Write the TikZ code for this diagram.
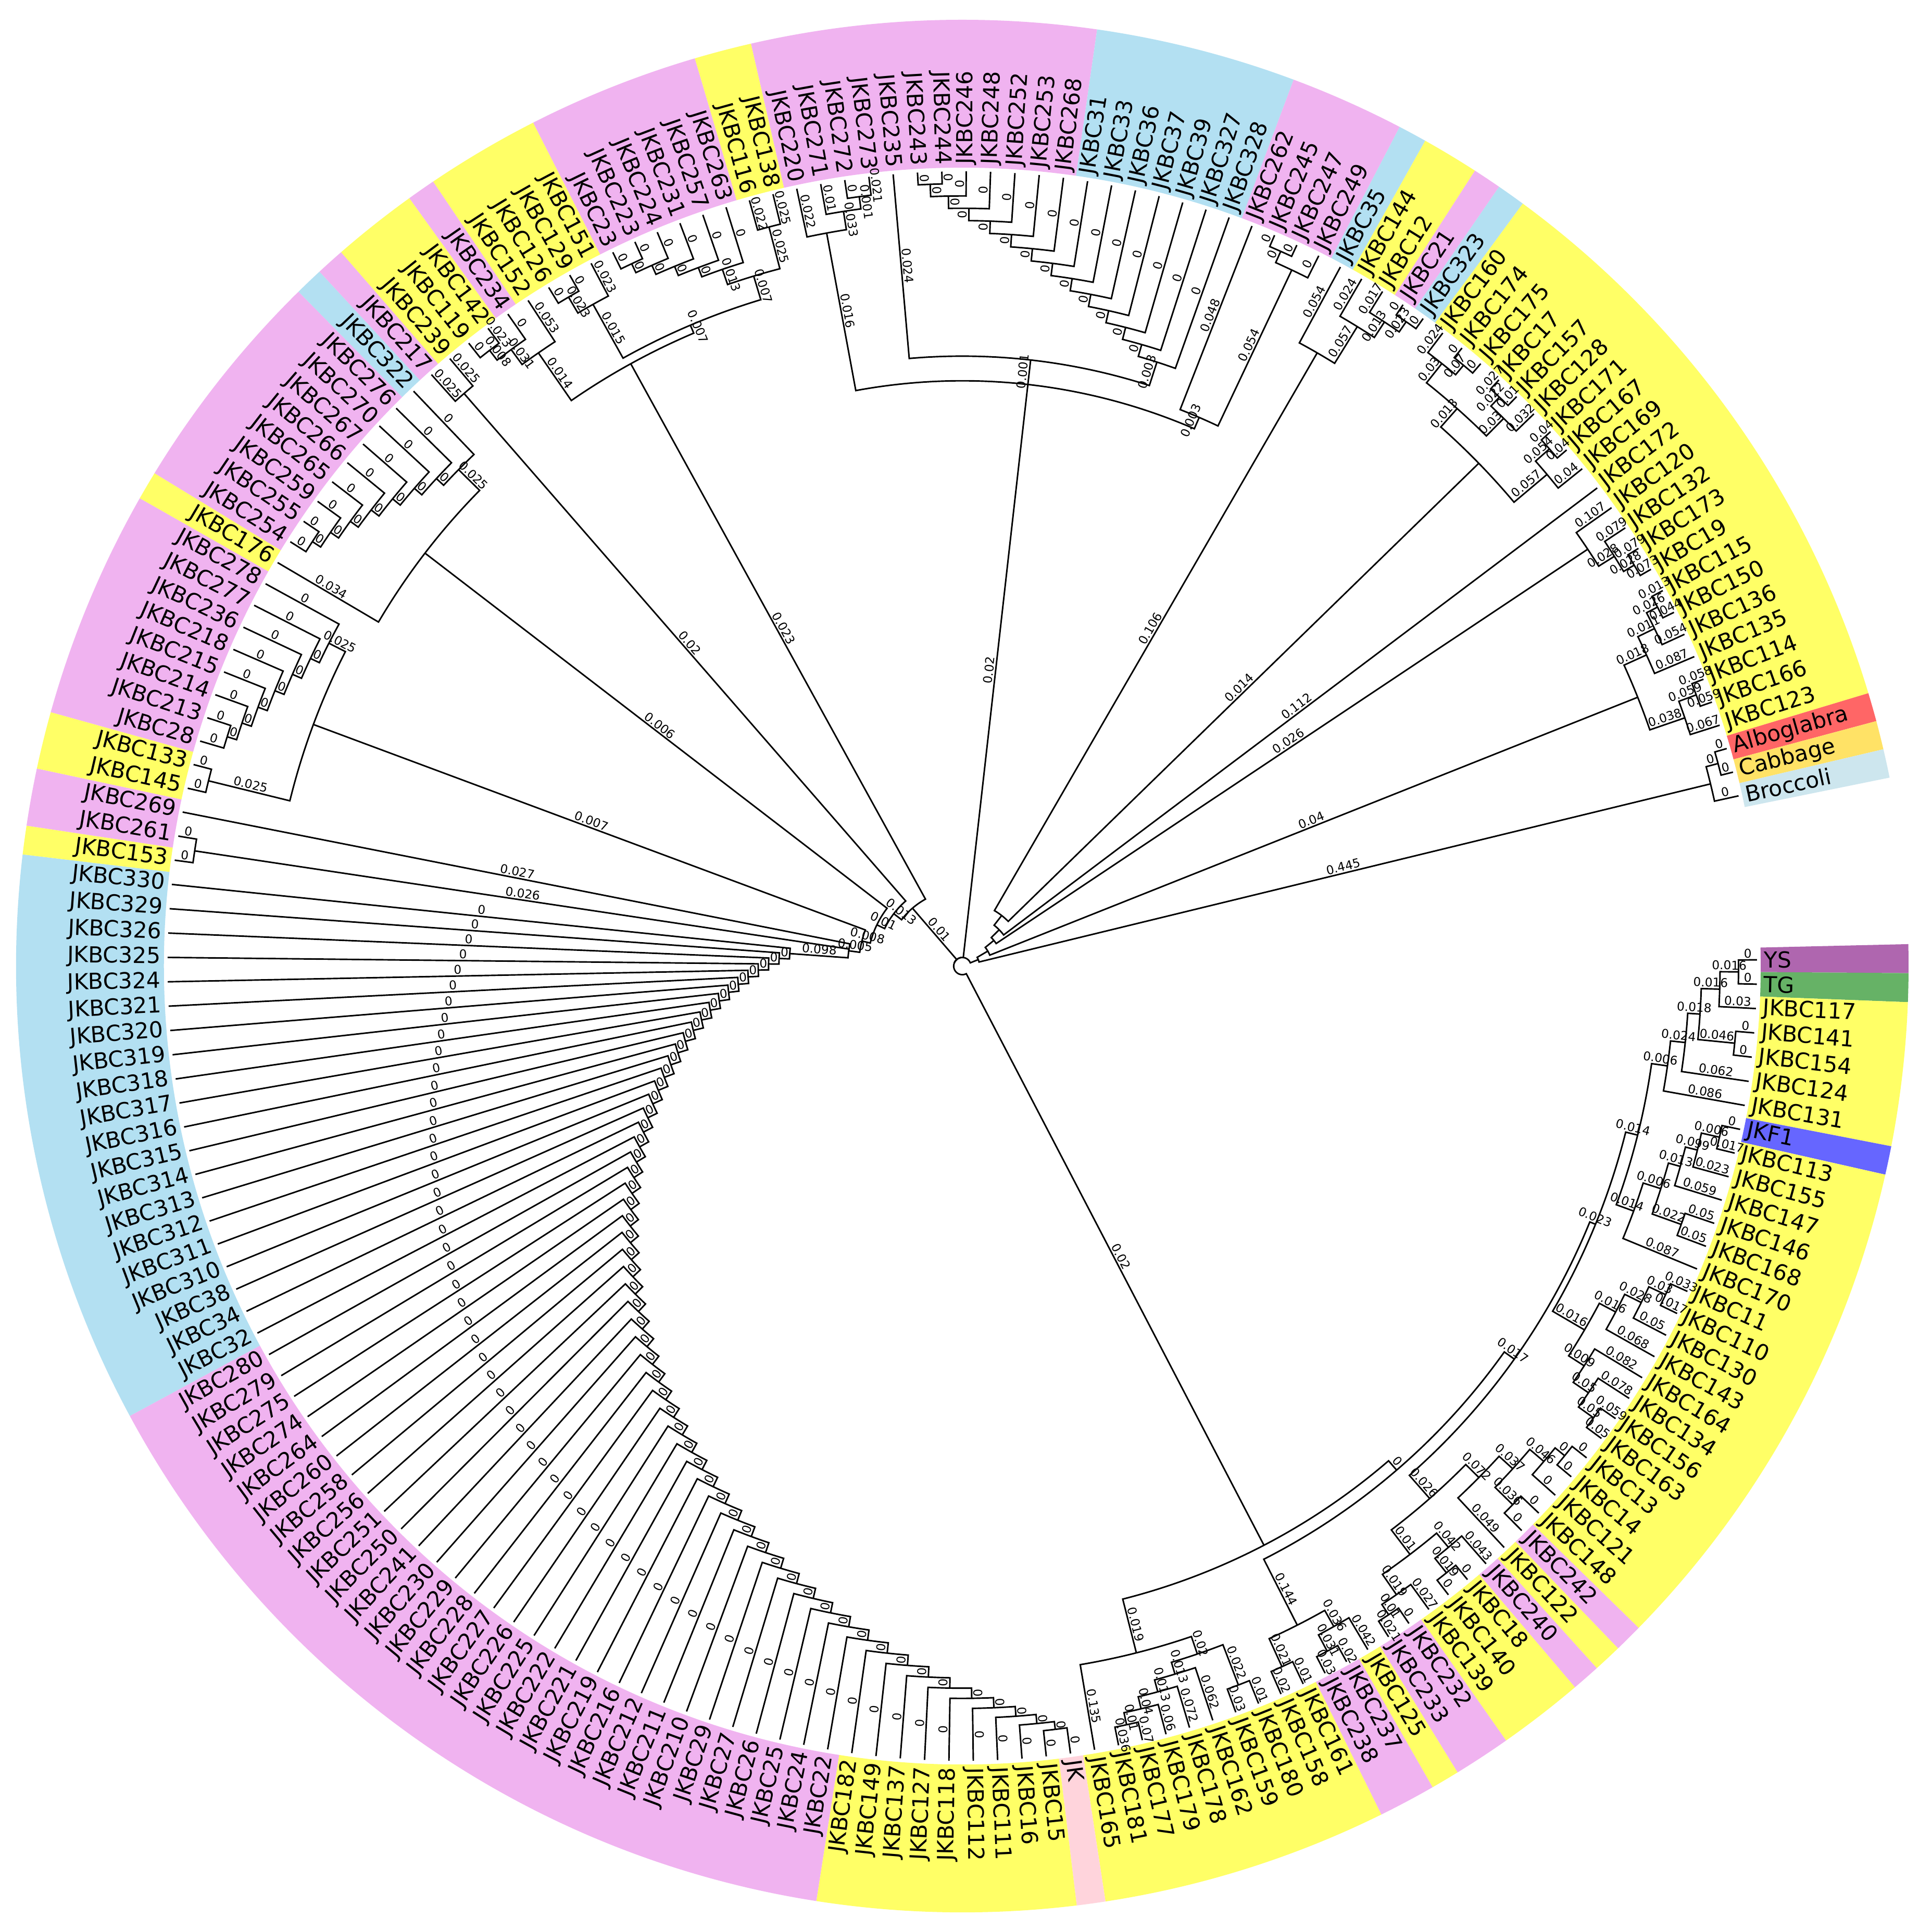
\documentclass[tikz,border=0pt]{standalone}
\usepackage{fontspec}
\newfontfamily\labfont{DejaVu Sans}
\definecolor{cP}{RGB}{240,179,240}
\definecolor{cY}{RGB}{255,255,102}
\definecolor{cB}{RGB}{179,224,242}
\definecolor{cYS}{RGB}{175,102,175}
\definecolor{cTG}{RGB}{102,178,102}
\definecolor{cKF}{RGB}{102,102,255}
\definecolor{cAl}{RGB}{255,102,102}
\definecolor{cCa}{RGB}{255,226,102}
\definecolor{cBr}{RGB}{205,230,238}
\definecolor{cJK}{RGB}{255,212,220}
\tikzset{
 br/.style={line width=0.35pt, black},
 lab/.style={font=\labfont\fontsize{5.1}{6}\selectfont, inner sep=0pt},
 bl/.style={font=\labfont\fontsize{2.8}{3}\selectfont, inner sep=0.25pt, anchor=south},
}
\newcommand\Tip{6.45}
\newcommand\BrE[5]{%
 \pgfmathsetmacro\BrPa{0.45-(#1-1)*1.758}%
 \pgfmathsetmacro\BrCa{0.45-(#3-1)*1.758}%
 \pgfmathsetmacro\BrMr{(#2+#4)/2}%
 \pgfmathsetmacro\BrRot{cos(\BrCa)>=0 ? \BrCa : \BrCa+180}%
 \draw[br] (\BrPa:#2) arc[start angle=\BrPa, end angle=\BrCa, radius=#2] -- (\BrCa:#4);%
 \node[bl, rotate=\BrRot] at (\BrCa:\BrMr) {#5};%
}
\newcommand\Lf[2]{%
 \pgfmathsetmacro\LfA{0.45-(#1-1)*1.758}%
 \pgfmathtruncatemacro\LfR{cos(\LfA)>=0 ? 1 : 0}%
 \ifnum\LfR=1
   \node[lab, anchor=west, rotate=\LfA] (leaf#1) at (\LfA:6.5) {#2};%
 \else
   \pgfmathsetmacro\LfB{\LfA+180}%
   \node[lab, anchor=east, rotate=\LfB] (leaf#1) at (\LfA:6.5) {#2};%
 \fi
}
\newcommand\Band[3]{%
 \pgfmathsetmacro\BdA{0.45-(#1-1)*1.758+0.879}%
 \pgfmathsetmacro\BdB{0.45-(#2-1)*1.758-0.879}%
 \fill[#3] (\BdA:6.48) arc[start angle=\BdA, end angle=\BdB, radius=6.48] -- (\BdB:7.68) arc[start angle=\BdB, end angle=\BdA, radius=7.68] -- cycle;%
}
\newcommand\Cat[4]{%
 \pgfmathsetmacro\CatTmp{#1+0.5}\xdef\CatP{\CatTmp}\xdef\CatR{#3}%
 \pgfmathtruncatemacro\CatS{#1+1}%
 \pgfmathtruncatemacro\CatF{#1+2}%
 \BrE{\CatP}{\CatR}{#1}{\Tip}{0}%
 \BrE{\CatP}{\CatR}{\CatS}{\Tip}{0}%
 \foreach \k in {\CatF,...,#2}{%
   \pgfmathsetmacro\CatNp{(\CatP+\k)/2}%
   \pgfmathsetmacro\CatNr{\CatR-#4}%
   \BrE{\CatNp}{\CatNr}{\k}{\Tip}{0}%
   \BrE{\CatNp}{\CatNr}{\CatP}{\CatR}{0}%
   \xdef\CatP{\CatNp}\xdef\CatR{\CatNr}%
 }%
}
\begin{document}
\begin{tikzpicture}
\fill[white] (-7.81,-7.82) rectangle (7.87,7.84);
\useasboundingbox (-7.81,-7.82) rectangle (7.87,7.84);
% colour ring
\Band{1}{1}{cYS}\Band{2}{2}{cTG}\Band{3}{7}{cY}\Band{8}{8}{cKF}\Band{9}{26}{cY}
\Band{27}{27}{cP}\Band{28}{28}{cY}\Band{29}{29}{cP}\Band{30}{32}{cY}\Band{33}{34}{cP}
\Band{35}{35}{cY}\Band{36}{37}{cP}\Band{38}{47}{cY}\Band{48}{48}{cJK}\Band{49}{57}{cY}
\Band{58}{87}{cP}\Band{88}{107}{cB}\Band{108}{108}{cY}\Band{109}{110}{cP}\Band{111}{112}{cY}
\Band{113}{120}{cP}\Band{121}{121}{cY}\Band{122}{129}{cP}\Band{130}{130}{cB}\Band{131}{131}{cP}
\Band{132}{134}{cY}\Band{135}{135}{cP}\Band{136}{139}{cY}\Band{140}{145}{cP}\Band{146}{147}{cY}
\Band{148}{159}{cP}\Band{160}{166}{cB}\Band{167}{170}{cP}\Band{171}{171}{cB}\Band{172}{173}{cY}
\Band{174}{174}{cP}\Band{175}{175}{cB}\Band{176}{196}{cY}\Band{197}{197}{cAl}\Band{198}{198}{cCa}
\Band{199}{199}{cBr}
% root
\BrE{115.15}{0.07}{36.8}{5.30}{0.02}
\BrE{115.15}{0.07}{131.67}{0.62}{0.01}
\BrE{115.15}{0.07}{158.5}{4.75}{0.02}
\BrE{115.15}{0.07}{193.5}{0.14}{}
% C1
\BrE{36.8}{5.30}{29.27}{5.40}{0}
\BrE{36.8}{5.30}{44.36}{5.75}{0.019}
\BrE{29.27}{5.40}{21.42}{5.50}{0.017}
\BrE{29.27}{5.40}{37.125}{6.0}{0.144}
\BrE{21.42}{5.50}{13.875}{5.55}{0.023}
\BrE{21.42}{5.50}{28.97}{5.75}{0.026}
\BrE{13.875}{5.55}{9.25}{5.65}{0.014}
\BrE{13.875}{5.55}{18.5}{5.85}{0.016}
\BrE{9.25}{5.65}{5.84}{5.78}{0.006}
\BrE{9.25}{5.65}{12.66}{5.80}{0.014}
\BrE{5.84}{5.78}{4.69}{5.90}{0.024}
\BrE{5.84}{5.78}{7}{\Tip}{0.086}
\BrE{4.69}{5.90}{3.375}{6.0}{0.018}
\BrE{4.69}{5.90}{6}{\Tip}{0.062}
\BrE{3.375}{6.0}{2.25}{6.15}{0.016}
\BrE{3.375}{6.0}{4.5}{6.3}{0.046}
\BrE{4.5}{6.3}{4}{\Tip}{0}
\BrE{4.5}{6.3}{5}{\Tip}{0}
\BrE{2.25}{6.15}{1.5}{6.3}{0.016}
\BrE{2.25}{6.15}{3}{\Tip}{0.03}
\BrE{1.5}{6.3}{1}{\Tip}{0}
\BrE{1.5}{6.3}{2}{\Tip}{0}
\BrE{12.66}{5.80}{11.31}{5.95}{0.006}
\BrE{12.66}{5.80}{14}{\Tip}{0.087}
\BrE{11.31}{5.95}{10.125}{6.05}{0.013}
\BrE{11.31}{5.95}{12.5}{6.2}{0.022}
\BrE{12.5}{6.2}{12}{\Tip}{0.05}
\BrE{12.5}{6.2}{13}{\Tip}{0.05}
\BrE{10.125}{6.05}{9.25}{6.15}{0.099}
\BrE{10.125}{6.05}{11}{\Tip}{0.059}
\BrE{9.25}{6.15}{8.5}{6.3}{0.006}
\BrE{9.25}{6.15}{10}{\Tip}{0.023}
\BrE{8.5}{6.3}{8}{\Tip}{0}
\BrE{8.5}{6.3}{9}{\Tip}{0.017}
\BrE{18.5}{5.85}{17.125}{6.0}{0.016}
\BrE{18.5}{5.85}{19.875}{6.0}{0.009}
\BrE{17.125}{6.0}{16.25}{6.15}{0.028}
\BrE{17.125}{6.0}{18}{\Tip}{0.068}
\BrE{16.25}{6.15}{15.5}{6.3}{0.03}
\BrE{16.25}{6.15}{17}{\Tip}{0.05}
\BrE{15.5}{6.3}{15}{\Tip}{0.033}
\BrE{15.5}{6.3}{16}{\Tip}{0.017}
\BrE{19.875}{6.0}{19}{\Tip}{0.082}
\BrE{19.875}{6.0}{20.75}{6.15}{0.05}
\BrE{20.75}{6.15}{20}{\Tip}{0.078}
\BrE{20.75}{6.15}{21.5}{6.3}{0.05}
\BrE{21.5}{6.3}{21}{\Tip}{0.059}
\BrE{21.5}{6.3}{22}{\Tip}{0.05}
\BrE{28.97}{5.75}{26.69}{5.90}{0.072}
\BrE{28.97}{5.75}{31.25}{6.0}{0.01}
\BrE{26.69}{5.90}{25.375}{6.05}{0.037}
\BrE{26.69}{5.90}{28}{\Tip}{0.049}
\BrE{25.375}{6.05}{24.25}{6.2}{0.046}
\BrE{25.375}{6.05}{26.5}{6.25}{0.036}
\BrE{24.25}{6.2}{23.5}{6.3}{0}
\BrE{24.25}{6.2}{25}{\Tip}{0}
\BrE{23.5}{6.3}{23}{\Tip}{0}
\BrE{23.5}{6.3}{24}{\Tip}{0}
\BrE{26.5}{6.25}{26}{\Tip}{0}
\BrE{26.5}{6.25}{27}{\Tip}{0}
\BrE{31.25}{6.0}{29.75}{6.15}{0.042}
\BrE{31.25}{6.0}{32.75}{6.2}{0.019}
\BrE{29.75}{6.15}{29}{\Tip}{0.043}
\BrE{29.75}{6.15}{30.5}{6.3}{0.019}
\BrE{30.5}{6.3}{30}{\Tip}{0}
\BrE{30.5}{6.3}{31}{\Tip}{0}
\BrE{32.75}{6.2}{32}{\Tip}{0.027}
\BrE{32.75}{6.2}{33.5}{6.3}{0.01}
\BrE{33.5}{6.3}{33}{\Tip}{0}
\BrE{33.5}{6.3}{34}{\Tip}{0.021}
\BrE{37.125}{6.0}{35.75}{6.15}{0.036}
\BrE{37.125}{6.0}{38.5}{6.25}{0.021}
\BrE{35.75}{6.15}{35}{\Tip}{0.042}
\BrE{35.75}{6.15}{36.5}{6.3}{0.031}
\BrE{36.5}{6.3}{36}{\Tip}{0.02}
\BrE{36.5}{6.3}{37}{\Tip}{0.03}
\BrE{38.5}{6.25}{38}{\Tip}{0.01}
\BrE{38.5}{6.25}{39}{\Tip}{0.02}
\BrE{44.36}{5.75}{41.72}{5.90}{0.02}
\BrE{44.36}{5.75}{47}{\Tip}{0.135}
\BrE{41.72}{5.90}{40.5}{6.25}{0.022}
\BrE{41.72}{5.90}{42.94}{6.0}{0.013}
\BrE{40.5}{6.25}{40}{\Tip}{0.01}
\BrE{40.5}{6.25}{41}{\Tip}{0.03}
\BrE{42.94}{6.0}{42}{\Tip}{0.062}
\BrE{42.94}{6.0}{43.875}{6.1}{0.013}
\BrE{43.875}{6.1}{43}{\Tip}{0.072}
\BrE{43.875}{6.1}{44.75}{6.2}{0.04}
\BrE{44.75}{6.2}{44}{\Tip}{0.06}
\BrE{44.75}{6.2}{45.5}{6.3}{0.01}
\BrE{45.5}{6.3}{45}{\Tip}{0.07}
\BrE{45.5}{6.3}{46}{\Tip}{0.036}
% left hub
\BrE{131.67}{0.62}{124.9}{0.70}{0.013}
\BrE{131.67}{0.62}{138.44}{5.58}{0.023}
\BrE{124.9}{0.70}{118.3}{0.77}{0.01}
\BrE{124.9}{0.70}{131.5}{6.16}{0.02}
\BrE{118.3}{0.77}{111.63}{0.84}{0.008}
\BrE{118.3}{0.77}{125}{5.5}{0.006}
\BrE{111.63}{0.84}{108}{0.93}{0.005}
\BrE{111.63}{0.84}{115.26}{5.62}{0.007}
\BrE{108}{0.93}{106}{1.404}{0.098}
\BrE{108}{0.93}{108.5}{6.3}{0.026}
\BrE{108}{0.93}{110}{\Tip}{0.027}
\BrE{108.5}{6.3}{108}{\Tip}{0}
\BrE{108.5}{6.3}{109}{\Tip}{0}
% spiral comb
\xdef\CatP{48.5}\pgfmathsetmacro\CatTmp{1.32+0.0841*(107-48.5)}\xdef\CatR{\CatTmp}
\BrE{\CatP}{\CatR}{48}{\Tip}{0}
\BrE{\CatP}{\CatR}{49}{\Tip}{0}
\foreach \k in {50,...,107}{
  \pgfmathsetmacro\CatNp{(\CatP+\k)/2}
  \pgfmathsetmacro\CatNr{1.32+0.0841*(107-\CatNp)}
  \BrE{\CatNp}{\CatNr}{\k}{\Tip}{0}
  \BrE{\CatNp}{\CatNr}{\CatP}{\CatR}{0}
  \xdef\CatP{\CatNp}\xdef\CatR{\CatNr}
}
% G1
\BrE{115.26}{5.62}{111.5}{6.3}{0.025}
\BrE{115.26}{5.62}{119.008}{5.77}{0.025}
\BrE{111.5}{6.3}{111}{\Tip}{0}
\BrE{111.5}{6.3}{112}{\Tip}{0}
\Cat{113}{120}{6.25}{0.08}
% G2
\BrE{125}{5.5}{121}{\Tip}{0.034}
\BrE{125}{5.5}{129.004}{5.74}{0.025}
\Cat{122}{130}{6.3}{0.08}
% G3
\BrE{131.5}{6.16}{131}{\Tip}{0.025}
\BrE{131.5}{6.16}{132}{\Tip}{0.025}
% G4
\BrE{138.44}{5.58}{135.125}{6.05}{0.014}
\BrE{138.44}{5.58}{141.76}{5.65}{0.007}
\BrE{135.125}{6.05}{134.25}{6.2}{0.031}
\BrE{135.125}{6.05}{136}{\Tip}{0.053}
\BrE{134.25}{6.2}{133.5}{6.3}{0.008}
\BrE{134.25}{6.2}{135}{\Tip}{0}
\BrE{133.5}{6.3}{133}{\Tip}{0}
\BrE{133.5}{6.3}{134}{\Tip}{0.023}
\BrE{141.76}{5.65}{138.25}{6.15}{0.015}
\BrE{141.76}{5.65}{145.27}{5.85}{0.007}
\BrE{138.25}{6.15}{137.5}{6.3}{0.023}
\BrE{138.25}{6.15}{139}{\Tip}{0.023}
\BrE{137.5}{6.3}{137}{\Tip}{0}
\BrE{137.5}{6.3}{138}{\Tip}{0}
\BrE{145.27}{5.85}{144.03}{5.98}{0.013}
\BrE{145.27}{5.85}{146.5}{6.2}{0.025}
\Cat{140}{145}{6.3}{0.08}
\BrE{146.5}{6.2}{146}{\Tip}{0.022}
\BrE{146.5}{6.2}{147}{\Tip}{0.025}
% top clade
\BrE{158.5}{4.75}{148.875}{6.05}{0.016}
\BrE{158.5}{4.75}{158.5}{4.95}{0.001}
\BrE{158.5}{4.75}{168.125}{4.85}{0.003}
\BrE{148.875}{6.05}{148}{\Tip}{0.022}
\BrE{148.875}{6.05}{149.75}{6.2}{0.033}
\BrE{149.75}{6.2}{149}{\Tip}{0.01}
\BrE{149.75}{6.2}{150.5}{6.3}{0.001}
\BrE{150.5}{6.3}{150}{\Tip}{0}
\BrE{150.5}{6.3}{151}{\Tip}{0.021}
\BrE{158.5}{4.95}{152}{\Tip}{0.024}
\BrE{158.5}{4.95}{165.0}{5.15}{0.003}
\Cat{153}{166}{6.35}{0.1}
\BrE{168.125}{4.85}{167}{\Tip}{0.048}
\BrE{168.125}{4.85}{169.25}{6.25}{0.054}
\BrE{169.25}{6.25}{168.5}{6.35}{0}
\BrE{169.25}{6.25}{170}{\Tip}{0}
\BrE{168.5}{6.35}{168}{\Tip}{0}
\BrE{168.5}{6.35}{169}{\Tip}{0}
% right hub
\BrE{193.5}{0.14}{188.74}{0.24}{}
\BrE{193.5}{0.14}{198.25}{6.25}{0.445}
\BrE{188.74}{0.24}{183.8}{0.33}{}
\BrE{188.74}{0.24}{193.69}{5.9}{0.04}
\BrE{183.8}{0.33}{180.7}{0.42}{}
\BrE{183.8}{0.33}{186.875}{6.1}{0.026}
\BrE{180.7}{0.42}{176.41}{0.52}{}
\BrE{180.7}{0.42}{185}{\Tip}{0.112}
\BrE{176.41}{0.52}{171.94}{5.75}{0.106}
\BrE{176.41}{0.52}{180.875}{5.85}{0.014}
\BrE{171.94}{5.75}{171}{\Tip}{0.054}
\BrE{171.94}{5.75}{172.875}{6.1}{0.057}
\BrE{172.875}{6.1}{172}{\Tip}{0.024}
\BrE{172.875}{6.1}{173.75}{6.25}{0.013}
\BrE{173.75}{6.25}{173}{\Tip}{0.017}
\BrE{173.75}{6.25}{174.5}{6.35}{0.023}
\BrE{174.5}{6.35}{174}{\Tip}{0}
\BrE{174.5}{6.35}{175}{\Tip}{0}
\BrE{180.875}{5.85}{178.5}{6.05}{0.013}
\BrE{180.875}{5.85}{183.25}{6.2}{0.057}
\BrE{178.5}{6.05}{176.75}{6.25}{0.03}
\BrE{178.5}{6.05}{180.25}{6.25}{0.03}
\BrE{176.75}{6.25}{176}{\Tip}{0.024}
\BrE{176.75}{6.25}{177.5}{6.35}{0.07}
\BrE{177.5}{6.35}{177}{\Tip}{0}
\BrE{177.5}{6.35}{178}{\Tip}{0}
\BrE{180.25}{6.25}{179.5}{6.35}{0.022}
\BrE{180.25}{6.25}{181}{\Tip}{0.032}
\BrE{179.5}{6.35}{179}{\Tip}{0.027}
\BrE{179.5}{6.35}{180}{\Tip}{0.01}
\BrE{183.25}{6.2}{182.5}{6.35}{0.054}
\BrE{183.25}{6.2}{184}{\Tip}{0.04}
\BrE{182.5}{6.35}{182}{\Tip}{0.04}
\BrE{182.5}{6.35}{183}{\Tip}{0.04}
\BrE{186.875}{6.1}{186}{\Tip}{0.107}
\BrE{186.875}{6.1}{187.75}{6.25}{0.028}
\BrE{187.75}{6.25}{187}{\Tip}{0.079}
\BrE{187.75}{6.25}{188.5}{6.35}{0.028}
\BrE{188.5}{6.35}{188}{\Tip}{0.079}
\BrE{188.5}{6.35}{189}{\Tip}{0.073}
\BrE{193.69}{5.9}{192.125}{6.1}{0.018}
\BrE{193.69}{5.9}{195.25}{6.2}{0.038}
\BrE{192.125}{6.1}{191.25}{6.25}{0.011}
\BrE{192.125}{6.1}{193}{\Tip}{0.087}
\BrE{191.25}{6.25}{190.5}{6.35}{0.026}
\BrE{191.25}{6.25}{192}{\Tip}{0.054}
\BrE{190.5}{6.35}{190}{\Tip}{0.013}
\BrE{190.5}{6.35}{191}{\Tip}{0.044}
\BrE{195.25}{6.2}{194.5}{6.35}{0.059}
\BrE{195.25}{6.2}{196}{\Tip}{0.067}
\BrE{194.5}{6.35}{194}{\Tip}{0.058}
\BrE{194.5}{6.35}{195}{\Tip}{0.059}
\BrE{198.25}{6.25}{197.5}{6.35}{0}
\BrE{198.25}{6.25}{199}{\Tip}{0}
\BrE{197.5}{6.35}{197}{\Tip}{0}
\BrE{197.5}{6.35}{198}{\Tip}{0}
% leaf labels
\foreach \i/\t in {1/YS,2/TG,3/JKBC117,4/JKBC141,5/JKBC154,6/JKBC124,7/JKBC131,8/JKF1,9/JKBC113,10/JKBC155,
11/JKBC147,12/JKBC146,13/JKBC168,14/JKBC170,15/JKBC11,16/JKBC110,17/JKBC130,18/JKBC143,19/JKBC164,20/JKBC134,
21/JKBC156,22/JKBC163,23/JKBC13,24/JKBC14,25/JKBC121,26/JKBC148,27/JKBC242,28/JKBC122,29/JKBC240,30/JKBC18,
31/JKBC140,32/JKBC139,33/JKBC232,34/JKBC233,35/JKBC125,36/JKBC237,37/JKBC238,38/JKBC161,39/JKBC158,40/JKBC180,
41/JKBC159,42/JKBC162,43/JKBC178,44/JKBC179,45/JKBC177,46/JKBC181,47/JKBC165,48/JK,49/JKBC15,50/JKBC16,
51/JKBC111,52/JKBC112,53/JKBC118,54/JKBC127,55/JKBC137,56/JKBC149,57/JKBC182,58/JKBC22,59/JKBC24,60/JKBC25,
61/JKBC26,62/JKBC27,63/JKBC29,64/JKBC210,65/JKBC211,66/JKBC212,67/JKBC216,68/JKBC219,69/JKBC221,70/JKBC222,
71/JKBC225,72/JKBC226,73/JKBC227,74/JKBC228,75/JKBC229,76/JKBC230,77/JKBC241,78/JKBC250,79/JKBC251,80/JKBC256,
81/JKBC258,82/JKBC260,83/JKBC264,84/JKBC274,85/JKBC275,86/JKBC279,87/JKBC280,88/JKBC32,89/JKBC34,90/JKBC38,
91/JKBC310,92/JKBC311,93/JKBC312,94/JKBC313,95/JKBC314,96/JKBC315,97/JKBC316,98/JKBC317,99/JKBC318,100/JKBC319,
101/JKBC320,102/JKBC321,103/JKBC324,104/JKBC325,105/JKBC326,106/JKBC329,107/JKBC330,108/JKBC153,109/JKBC261,110/JKBC269,
111/JKBC145,112/JKBC133,113/JKBC28,114/JKBC213,115/JKBC214,116/JKBC215,117/JKBC218,118/JKBC236,119/JKBC277,120/JKBC278,
121/JKBC176,122/JKBC254,123/JKBC255,124/JKBC259,125/JKBC265,126/JKBC266,127/JKBC267,128/JKBC270,129/JKBC276,130/JKBC322,
131/JKBC217,132/JKBC239,133/JKBC119,134/JKBC142,135/JKBC234,136/JKBC152,137/JKBC126,138/JKBC129,139/JKBC151,140/JKBC23,
141/JKBC223,142/JKBC224,143/JKBC231,144/JKBC257,145/JKBC263,146/JKBC116,147/JKBC138,148/JKBC220,149/JKBC271,150/JKBC272,
151/JKBC273,152/JKBC235,153/JKBC243,154/JKBC244,155/JKBC246,156/JKBC248,157/JKBC252,158/JKBC253,159/JKBC268,160/JKBC31,
161/JKBC33,162/JKBC36,163/JKBC37,164/JKBC39,165/JKBC327,166/JKBC328,167/JKBC262,168/JKBC245,169/JKBC247,170/JKBC249,
171/JKBC35,172/JKBC144,173/JKBC12,174/JKBC21,175/JKBC323,176/JKBC160,177/JKBC174,178/JKBC175,179/JKBC17,180/JKBC157,
181/JKBC128,182/JKBC171,183/JKBC167,184/JKBC169,185/JKBC172,186/JKBC120,187/JKBC132,188/JKBC173,189/JKBC19,190/JKBC115,
191/JKBC150,192/JKBC136,193/JKBC135,194/JKBC114,195/JKBC166,196/JKBC123,197/Alboglabra,198/Cabbage,199/Broccoli}{\Lf{\i}{\t}}
\end{tikzpicture}
\end{document}
